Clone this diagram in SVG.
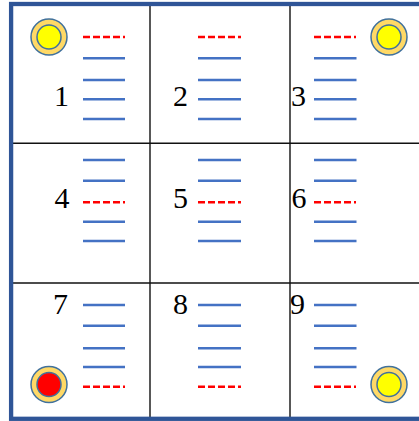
<svg xmlns="http://www.w3.org/2000/svg" width="419" height="421" viewBox="0 0 419 421">
<style>
.b{stroke:#4472C4;stroke-width:2.4;fill:none}
.r{stroke:#FF0000;stroke-width:2.4;stroke-dasharray:7 3;fill:none}
.n{font-family:"Liberation Serif","Times New Roman",serif;font-size:30px;fill:#000;text-anchor:end}
.g{stroke:#111;stroke-width:1.4;fill:none}
.o{fill:#FFD966;stroke:#41719C;stroke-width:1.5}
.y{fill:#FFFF00;stroke:#41719C;stroke-width:1.5}
.rd{fill:#FF0000;stroke:#41719C;stroke-width:1.5}
</style>
<rect x="0" y="0" width="419" height="421" fill="#fff"/>
<g id="grid">
<line class="g" x1="150" y1="4" x2="150" y2="419"/>
<line class="g" x1="290" y1="4" x2="290" y2="419"/>
<line class="g" x1="11" y1="143.3" x2="419" y2="143.3"/>
<line class="g" x1="11" y1="283" x2="419" y2="283"/>
</g>
<rect id="frame" x="11.1" y="4" width="440" height="414.8" fill="none" stroke="#2F5597" stroke-width="4.3"/>
<g id="cell1">
<text class="n" x="69" y="106">1</text>
<line class="r" x1="83" y1="37" x2="125" y2="37"/>
<line class="b" x1="83" y1="58.3" x2="125" y2="58.3"/>
<line class="b" x1="83" y1="80" x2="125" y2="80"/>
<line class="b" x1="83" y1="99.3" x2="125" y2="99.3"/>
<line class="b" x1="83" y1="119" x2="125" y2="119"/>
<circle class="o" cx="49" cy="37" r="18"/>
<circle class="y" cx="49" cy="37" r="12"/>
</g>
<g id="cell2">
<text class="n" x="188" y="106">2</text>
<line class="r" x1="198" y1="37" x2="241" y2="37"/>
<line class="b" x1="198" y1="58.3" x2="241" y2="58.3"/>
<line class="b" x1="198" y1="80" x2="241" y2="80"/>
<line class="b" x1="198" y1="99.3" x2="241" y2="99.3"/>
<line class="b" x1="198" y1="119" x2="241" y2="119"/>
</g>
<g id="cell3">
<text class="n" x="306" y="106">3</text>
<line class="r" x1="314" y1="37" x2="356" y2="37"/>
<line class="b" x1="314" y1="58.3" x2="356.5" y2="58.3"/>
<line class="b" x1="314" y1="80" x2="356.5" y2="80"/>
<line class="b" x1="314" y1="99.3" x2="356.5" y2="99.3"/>
<line class="b" x1="314" y1="119" x2="356.5" y2="119"/>
<circle class="o" cx="389" cy="37" r="18"/>
<circle class="y" cx="389" cy="37" r="12"/>
</g>
<g id="cell4">
<text class="n" x="69.5" y="208">4</text>
<line class="b" x1="83" y1="160" x2="125" y2="160"/>
<line class="b" x1="83" y1="180.7" x2="125" y2="180.7"/>
<line class="r" x1="83" y1="202.3" x2="125" y2="202.3"/>
<line class="b" x1="83" y1="221.7" x2="125" y2="221.7"/>
<line class="b" x1="83" y1="241" x2="125" y2="241"/>
</g>
<g id="cell5">
<text class="n" x="188" y="208">5</text>
<line class="b" x1="198" y1="160" x2="241" y2="160"/>
<line class="b" x1="198" y1="180.7" x2="241" y2="180.7"/>
<line class="r" x1="198" y1="202.3" x2="241" y2="202.3"/>
<line class="b" x1="198" y1="221.7" x2="241" y2="221.7"/>
<line class="b" x1="198" y1="241" x2="241" y2="241"/>
</g>
<g id="cell6">
<text class="n" x="306.5" y="208">6</text>
<line class="b" x1="314" y1="160" x2="356.5" y2="160"/>
<line class="b" x1="314" y1="180.7" x2="356.5" y2="180.7"/>
<line class="r" x1="314" y1="202.3" x2="356" y2="202.3"/>
<line class="b" x1="314" y1="221.7" x2="356.5" y2="221.7"/>
<line class="b" x1="314" y1="241" x2="356.5" y2="241"/>
</g>
<g id="cell7">
<text class="n" x="68" y="314">7</text>
<line class="b" x1="83" y1="305" x2="125" y2="305"/>
<line class="b" x1="83" y1="325.7" x2="125" y2="325.7"/>
<line class="b" x1="83" y1="348.3" x2="125" y2="348.3"/>
<line class="b" x1="83" y1="367" x2="125" y2="367"/>
<line class="r" x1="83" y1="386.7" x2="125" y2="386.7"/>
<circle class="o" cx="49" cy="384.5" r="18"/>
<circle class="rd" cx="49" cy="384.5" r="12"/>
</g>
<g id="cell8">
<text class="n" x="188" y="314">8</text>
<line class="b" x1="198" y1="305" x2="241" y2="305"/>
<line class="b" x1="198" y1="325.7" x2="241" y2="325.7"/>
<line class="b" x1="198" y1="348.3" x2="241" y2="348.3"/>
<line class="b" x1="198" y1="367" x2="241" y2="367"/>
<line class="r" x1="198" y1="386.7" x2="241" y2="386.7"/>
</g>
<g id="cell9">
<text class="n" x="305" y="314">9</text>
<line class="b" x1="314" y1="305" x2="356.5" y2="305"/>
<line class="b" x1="314" y1="325.7" x2="356.5" y2="325.7"/>
<line class="b" x1="314" y1="348.3" x2="356.5" y2="348.3"/>
<line class="b" x1="314" y1="367" x2="356.5" y2="367"/>
<line class="r" x1="314" y1="386.7" x2="356" y2="386.7"/>
<circle class="o" cx="389" cy="384.5" r="18"/>
<circle class="y" cx="389" cy="384.5" r="12"/>
</g>
</svg>
